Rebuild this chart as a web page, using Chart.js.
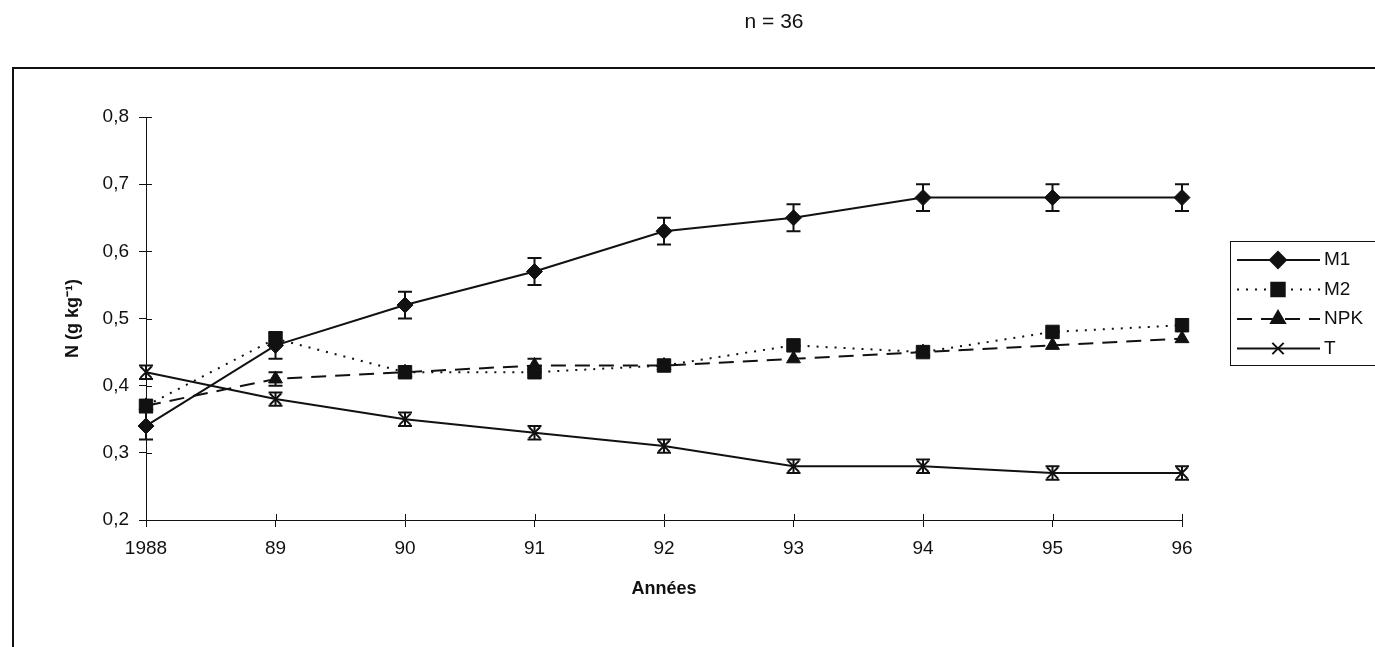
<!DOCTYPE html>
<html>
<head>
<meta charset="utf-8">
<script src="https://cdn.jsdelivr.net/npm/chart.js@4/dist/chart.umd.min.js"></script>
<style>
  html, body { margin: 0; padding: 0; background: #fff; }
  #wrap { width: 1375px; height: 647px; position: relative; }
</style>
</head>
<body>
<div id="wrap"><canvas id="nChart"></canvas></div>
<script>
/* N content over the years, n = 36 */

const YEARS = ['1988', '89', '90', '91', '92', '93', '94', '95', '96'];
const M1    = [0.34, 0.46, 0.52, 0.57, 0.63, 0.65, 0.68, 0.68, 0.68];
const M2    = [0.37, 0.47, 0.42, 0.42, 0.43, 0.46, 0.45, 0.48, 0.49];
const NPK   = [0.37, 0.41, 0.42, 0.43, 0.43, 0.44, 0.45, 0.46, 0.47];
const T     = [0.42, 0.38, 0.35, 0.33, 0.31, 0.28, 0.28, 0.27, 0.27];
const M1_ERR  = [0.02, 0.02, 0.02, 0.02, 0.02, 0.02, 0.02, 0.02, 0.02];
const NPK_ERR = [0, 0.01, 0, 0.01, 0, 0, 0, 0, 0];
const T_ERR   = [0.01, 0.01, 0.01, 0.01, 0.01, 0.01, 0.01, 0.01, 0.01];

const INK  = '#111';
const FONT = 'Liberation Sans, Arial, sans-serif';

/* ── page frame and title ─────────────────────────────────── */
const framePlugin = {
  id: 'frame',
  beforeDraw(chart) {
    const ctx = chart.ctx;
    ctx.save();
    ctx.strokeStyle = INK; ctx.lineWidth = 2;
    ctx.beginPath();
    ctx.moveTo(13, 647); ctx.lineTo(13, 68); ctx.lineTo(1375, 68);
    ctx.stroke();
    ctx.fillStyle = INK;
    ctx.font = '21px ' + FONT;
    ctx.textAlign = 'center'; ctx.textBaseline = 'middle';
    ctx.fillText('n = 36', 774, 22);
    ctx.restore();
  }
};

/* ── error bars, drawn through the scales ─────────────────── */
const errorBarPlugin = {
  id: 'errorBars',
  afterDatasetsDraw(chart) {
    const ctx = chart.ctx, xs = chart.scales.x, ys = chart.scales.y;
    ctx.save();
    ctx.strokeStyle = INK; ctx.lineWidth = 2; ctx.setLineDash([]);
    chart.data.datasets.forEach(ds => {
      if (!ds.errors) return;
      ds.data.forEach((v, i) => {
        const e = ds.errors[i];
        if (!e) return;
        const x = xs.getPixelForValue(i);
        const yt = ys.getPixelForValue(v + e), yb = ys.getPixelForValue(v - e);
        ctx.beginPath();
        ctx.moveTo(x, yt); ctx.lineTo(x, yb);
        ctx.moveTo(x - 7, yt); ctx.lineTo(x + 7, yt);
        ctx.moveTo(x - 7, yb); ctx.lineTo(x + 7, yb);
        ctx.stroke();
      });
    });
    ctx.restore();
  }
};

/* ── inner half of the axis ticks (ticks cross the axis) ──── */
const innerTicksPlugin = {
  id: 'innerTicks',
  afterDraw(chart) {
    const ctx = chart.ctx, xs = chart.scales.x, ys = chart.scales.y, a = chart.chartArea;
    ctx.save();
    ctx.strokeStyle = INK; ctx.lineWidth = 1;
    ctx.beginPath();
    ys.ticks.forEach(t => { const y = Math.round(ys.getPixelForValue(t.value)) + 0.5; ctx.moveTo(a.left, y); ctx.lineTo(a.left + 6, y); });
    YEARS.forEach((_, i) => { const x = Math.round(xs.getPixelForValue(i)) + 0.5; ctx.moveTo(x, a.bottom); ctx.lineTo(x, a.bottom - 6); });
    ctx.stroke();
    ctx.restore();
  }
};

/* ── boxed legend on the right ────────────────────────────── */
const legendPlugin = {
  id: 'boxLegend',
  afterDraw(chart) {
    const ctx = chart.ctx;
    ctx.save();
    ctx.strokeStyle = INK; ctx.lineWidth = 1;
    ctx.strokeRect(1230.5, 241.5, 160, 124);
    chart.data.datasets.forEach((ds, i) => {
      const y = 260 + i * 29.5;
      ctx.strokeStyle = INK; ctx.fillStyle = INK; ctx.lineWidth = 2;
      ctx.setLineDash(ds.borderDash || []);
      ctx.beginPath(); ctx.moveTo(1237, y); ctx.lineTo(1320, y); ctx.stroke();
      ctx.setLineDash([]);
      Chart.helpers.drawPoint(ctx, { pointStyle: ds.pointStyle, radius: ds.pointRadius, borderWidth: 2, rotation: 0 }, 1278, y);
      ctx.fillStyle = INK;
      ctx.font = '19px ' + FONT;
      ctx.textAlign = 'left'; ctx.textBaseline = 'middle';
      ctx.fillText(ds.label, 1324, y);
    });
    ctx.restore();
  }
};

const tickFont = { family: FONT, size: 19 };

new Chart(document.getElementById('nChart'), {
  type: 'line',
  data: {
    labels: YEARS,
    datasets: [
      { label: 'M1', data: M1, errors: M1_ERR, borderColor: INK, backgroundColor: INK, borderWidth: 2,
        pointStyle: 'rectRot', pointRadius: 8, pointBorderWidth: 1 },
      { label: 'M2', data: M2, borderColor: INK, backgroundColor: INK, borderWidth: 2, borderDash: [2, 7],
        pointStyle: 'rect', pointRadius: 9.5, pointBorderWidth: 1 },
      { label: 'NPK', data: NPK, errors: NPK_ERR, borderColor: INK, backgroundColor: INK, borderWidth: 2, borderDash: [15, 9],
        pointStyle: 'triangle', pointRadius: 8, pointBorderWidth: 1 },
      { label: 'T', data: T, errors: T_ERR, borderColor: INK, backgroundColor: '#fff', borderWidth: 2,
        pointStyle: 'crossRot', pointRadius: 8, pointBorderWidth: 2 }
    ]
  },
  options: {
    responsive: true, maintainAspectRatio: false, animation: false,
    layout: { padding: { left: 0, top: 117, right: 193, bottom: 0 } },
    plugins: { legend: { display: false }, tooltip: { enabled: false }, title: { display: false } },
    scales: {
      x: {
        type: 'category', offset: false,
        grid: { drawOnChartArea: false, color: INK, tickLength: 7 },
        border: { color: INK, width: 1 },
        ticks: { color: INK, font: tickFont, padding: 10, maxRotation: 0, autoSkip: false },
        title: { display: true, text: 'Années', color: INK, font: { family: FONT, size: 18, weight: 'bold' }, padding: { top: 0, bottom: 47 } },
        afterFit(s) { s.height = 127; }
      },
      y: {
        min: 0.2, max: 0.8,
        grid: { drawOnChartArea: false, color: INK, tickLength: 7 },
        border: { color: INK, width: 1 },
        ticks: { color: INK, font: tickFont, padding: 10, stepSize: 0.1,
                 callback: v => v.toFixed(1).replace('.', ',') },
        title: { display: true, text: 'N (g kg⁻¹)', color: INK, font: { family: FONT, size: 18, weight: 'bold' }, padding: { top: 62, bottom: 0 } },
        afterFit(s) { s.width = 146; }
      }
    }
  },
  plugins: [framePlugin, innerTicksPlugin, errorBarPlugin, legendPlugin]
});
</script>
</body>
</html>
